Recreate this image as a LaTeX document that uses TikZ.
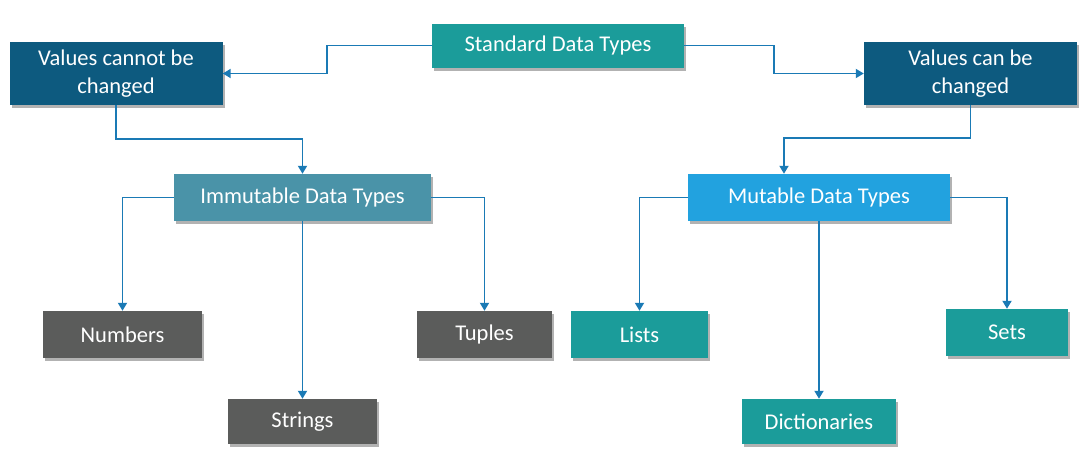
\documentclass[tikz,border=0pt]{standalone}
\usepackage{fontspec}
\setmainfont{Carlito}
\usetikzlibrary{arrows.meta,shadows}
\definecolor{tealbox}{HTML}{1B9C9A}
\definecolor{navybox}{HTML}{0D5A7F}
\definecolor{steelbox}{HTML}{4A93A8}
\definecolor{skybox}{HTML}{22A2DF}
\definecolor{slatebox}{HTML}{5B5C5B}
\definecolor{linkline}{HTML}{1A7AB5}
\tikzset{
	typebox/.style={rectangle, inner sep=0pt, text=white, align=center,
		font=\fontsize{22.5}{28}\selectfont,
		drop shadow={shadow xshift=2pt, shadow yshift=-3pt, opacity=0.3, fill=black}},
	conn/.style={draw=linkline, line width=1.8pt,
		-{Triangle[width=9pt,length=8pt]}}
}
\begin{document}
\begin{tikzpicture}[x=1pt,y=-1pt]
	\useasboundingbox (0,0) rectangle (1088,458);
	\node[typebox, fill=tealbox, minimum width=252pt, minimum height=44pt] (std) at (558,45.5) {Standard Data Types};
	\node[typebox, fill=navybox, minimum width=213pt, minimum height=63pt] (vcant) at (116,73.5) {Values cannot be\\changed};
	\node[typebox, fill=navybox, minimum width=213pt, minimum height=63pt] (vcan) at (970.5,73.5) {Values can be\\changed};
	\node[typebox, fill=steelbox, minimum width=257pt, minimum height=47pt] (immut) at (302.5,197.5) {Immutable Data Types};
	\node[typebox, fill=skybox, minimum width=262pt, minimum height=47pt] (mut) at (819,197.5) {Mutable Data Types};
	
	\node[typebox, fill=slatebox, minimum width=159pt, minimum height=47pt] (num) at (122.5,334.5) {Numbers};
	\node[typebox, fill=slatebox, minimum width=149pt, minimum height=45pt] (str) at (302.5,421.5) {Strings};
	\node[typebox, fill=slatebox, minimum width=135pt, minimum height=47pt] (tup) at (484.5,334.5) {Tuples};
	\node[typebox, fill=tealbox, minimum width=137pt, minimum height=47pt] (lst) at (639.5,334.5) {Lists};
	\node[typebox, fill=tealbox, minimum width=154pt, minimum height=45pt] (dict) at (819,421.5) {Dictionaries};
	\node[typebox, fill=tealbox, minimum width=122pt, minimum height=47pt] (sets) at (1007,332.5) {Sets};
	
	\draw[conn] (std.west) -- ++(-105,0) |- (vcant.east);
	\draw[conn] (std.east) -- ++(90,0) |- (vcan.west);
	\draw[conn] (vcant.south) -- ++(0,34) -| (immut.north);
	\draw[conn] (vcan.south) -- ++(0,33) -| ([xshift=-35pt]mut.north);
	
	\draw[conn] (immut.west) -| (num.north);
	\draw[conn] (immut.south) -- (str.north);
	\draw[conn] (immut.east) -| (tup.north);
	\draw[conn] (mut.west) -| (lst.north);
	\draw[conn] (mut.south) -- (dict.north);
	\draw[conn] (mut.east) -| (sets.north);
\end{tikzpicture}
\end{document}
